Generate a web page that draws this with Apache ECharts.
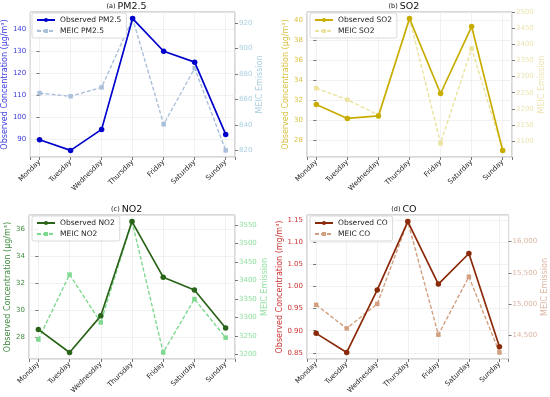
<!DOCTYPE html>
<html><head><meta charset="utf-8">
<script src="https://cdn.jsdelivr.net/npm/echarts@6/dist/echarts.min.js"></script>
<style>html,body{margin:0;padding:0;background:#fff}#c{width:550px;height:397px}</style>
</head><body><div id="c"></div>
<script>
const days = ['Monday','Tuesday','Wednesday','Thursday','Friday','Saturday','Sunday'];
const pm25Obs  = [89.6, 84.7, 94.3, 144.9, 130.0, 125.0, 92.0];
const pm25Meic = [865, 862.5, 869.5, 923.5, 840.5, 884.5, 820];
const so2Obs   = [31.6, 30.2, 30.45, 40.2, 32.7, 39.4, 27.0];
const so2Meic  = [2264, 2228, 2181, 2480, 2093, 2387, 2071];
const no2Obs   = [28.6, 26.9, 29.6, 36.55, 32.45, 31.5, 28.7];
const no2Meic  = [3241, 3416, 3287, 3559, 3206, 3350, 3246];
const coObs    = [0.894, 0.851, 0.992, 1.146, 1.005, 1.074, 0.864];
const coMeic   = [14990, 14615, 15005, 16316, 14515, 15437, 14232];

const FONT = 'DejaVu Sans';
const panels = [
  {tag:'(a)', name:'PM2.5', obs:pm25Obs, meic:pm25Meic, unit:'μg/m³', li:10, ri:20, dec:0, comma:false,
   grid:{left:29, top:12, width:206, height:145}, lg:19, rg:20,
   cObs:'#0000cd', cObsLab:'#3a3ae0', cMeic:'#aac0da', cMeicLab:'#a9cfe0'},
  {tag:'(b)', name:'SO2', obs:so2Obs, meic:so2Meic, unit:'μg/m³', li:2, ri:50, dec:0, comma:false,
   grid:{left:307, top:12, width:205, height:145}, lg:14, rg:24,
   cObs:'#c8ad00', cObsLab:'#d9c040', cMeic:'#ebe3a0', cMeicLab:'#ece4b0'},
  {tag:'(c)', name:'NO2', obs:no2Obs, meic:no2Meic, unit:'μg/m³', li:2, ri:50, dec:0, comma:false,
   grid:{left:29, top:215, width:206, height:144}, lg:13, rg:23,
   cObs:'#2a6418', cObsLab:'#3f8a3f', cMeic:'#7fd890', cMeicLab:'#90e0a0'},
  {tag:'(d)', name:'CO', obs:coObs, meic:coMeic, unit:'mg/m³', li:0.05, ri:500, dec:2, comma:true,
   grid:{left:307, top:215, width:205, height:144}, lg:21, rg:28,
   cObs:'#8b2a0a', cObsLab:'#cc3333', cMeic:'#d2a080', cMeicLab:'#dab4a0'}
];

const ctx = document.createElement('canvas').getContext('2d');
function tw(t, s){ ctx.font = s + 'px "' + FONT + '"'; return ctx.measureText(t).width; }

const grids=[], xAxes=[], yAxes=[], series=[], legends=[], graphics=[];
panels.forEach((p, i) => {
  grids.push(Object.assign({show:true, borderColor:'#999', borderWidth:0.8, backgroundColor:'transparent'}, p.grid));
  xAxes.push({type:'value', gridIndex:i, min:-0.3, max:6.3, minInterval:1, maxInterval:1,
    axisLine:{show:false}, axisTick:{show:true, length:3, lineStyle:{color:'#555', width:0.8}},
    splitLine:{show:true, lineStyle:{color:'#ebebeb', width:0.7}},
    axisLabel:{fontFamily:FONT, fontSize:7, color:'#222', rotate:45, margin:4,
      formatter: v => Number.isInteger(v) && v>=0 && v<days.length ? days[v] : ''}});
  const pad = e => 0.05*(e.max-e.min);
  yAxes.push({type:'value', gridIndex:i, position:'left',
    min: e => e.min - pad(e), max: e => e.max + pad(e), minInterval:p.li, maxInterval:p.li,
    name:'Observed Concentration (' + p.unit + ')', nameLocation:'middle', nameRotate:90, nameGap:p.lg,
    nameTextStyle:{fontFamily:FONT, fontSize:8, color:p.cObsLab},
    axisLine:{show:false}, axisTick:{show:true, length:3, lineStyle:{color:'#555', width:0.8}},
    splitLine:{show:true, lineStyle:{color:'#ebebeb', width:0.7}},
    axisLabel:{fontFamily:FONT, fontSize:7, color:p.cObsLab, margin:4, showMinLabel:false, showMaxLabel:false,
      formatter: v => v.toFixed(p.dec)}});
  yAxes.push({type:'value', gridIndex:i, position:'right',
    min: e => e.min - pad(e), max: e => e.max + pad(e), minInterval:p.ri, maxInterval:p.ri,
    name:'MEIC Emission', nameLocation:'middle', nameRotate:90, nameGap:p.rg,
    nameTextStyle:{fontFamily:FONT, fontSize:8, color:p.cMeicLab},
    axisLine:{show:false}, axisTick:{show:true, length:3, lineStyle:{color:'#555', width:0.8}},
    splitLine:{show:false},
    axisLabel:{fontFamily:FONT, fontSize:7, color:p.cMeicLab, margin:4, showMinLabel:false, showMaxLabel:false,
      formatter: v => p.comma ? Math.round(v).toLocaleString('en-US') : String(Math.round(v))}});
  const oName = 'Observed ' + p.name, mName = 'MEIC ' + p.name;
  series.push({type:'line', name:oName, xAxisIndex:i, yAxisIndex:2*i, data:p.obs.map((v,k)=>[k,v]),
    symbol:'circle', symbolSize:5.5, itemStyle:{color:p.cObs}, lineStyle:{color:p.cObs, width:1.7}, z:3, animation:false});
  series.push({type:'line', name:mName, xAxisIndex:i, yAxisIndex:2*i+1, data:p.meic.map((v,k)=>[k,v]),
    symbol:'rect', symbolSize:4.5, itemStyle:{color:p.cMeic}, lineStyle:{color:p.cMeic, width:1.4, type:[4,2]}, z:2, animation:false});
  legends.push({data:[oName, mName], orient:'vertical', left:p.grid.left+3, top:p.grid.top+1,
    backgroundColor:'rgba(255,255,255,0.85)', borderColor:'#cfcfcf', borderWidth:0.8, borderRadius:2,
    padding:[3,5,3,4], itemGap:3, itemWidth:18, itemHeight:5,
    textStyle:{fontFamily:FONT, fontSize:7.5, color:'#222'}});
  const cx = p.grid.left + p.grid.width/2, ty = p.grid.top - 5.5;
  const w = tw(p.name, 9.5);
  graphics.push({type:'text', x:cx, y:ty, style:{text:p.name, font:'9.5px "'+FONT+'"', fill:'#111', align:'center', verticalAlign:'middle'}});
  graphics.push({type:'text', x:cx - w/2 - 2, y:ty - 0.5, style:{text:p.tag, font:'6.5px "'+FONT+'"', fill:'#111', align:'right', verticalAlign:'middle'}});
});

const chart = echarts.init(document.getElementById('c'), null, {renderer:'canvas'});
chart.setOption({animation:false, backgroundColor:'#fff', grid:grids, xAxis:xAxes, yAxis:yAxes, series:series, legend:legends, graphic:graphics});
</script></body></html>
